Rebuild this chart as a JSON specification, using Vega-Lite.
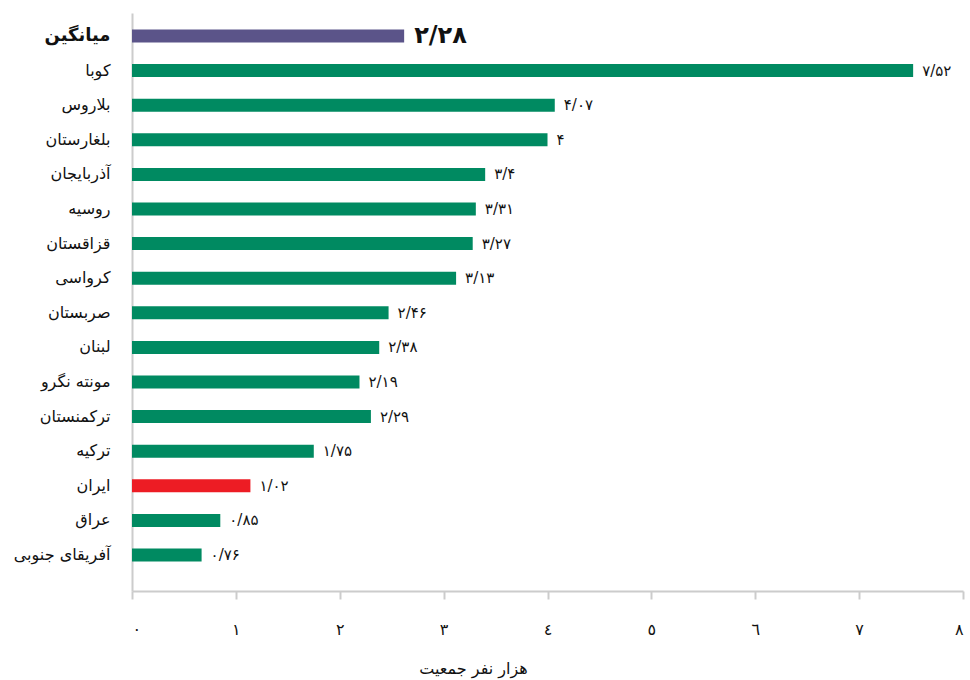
{
  "$schema": "https://vega.github.io/schema/vega-lite/v6.json",
  "autosize": "none",
  "padding": {"left": 132, "top": 13, "right": 6, "bottom": 89},
  "width": 831,
  "height": 578,
  "background": "white",
  "config": {"view": {"stroke": null}, "font": "DejaVu Sans"},
  "data": {
    "values": [
      {"country": "میانگین", "value": 2.62, "label": "۲/۲۸", "group": "avg"},
      {"country": "کوبا", "value": 7.52, "label": "۷/۵۲", "group": "other"},
      {"country": "بلاروس", "value": 4.07, "label": "۴/۰۷", "group": "other"},
      {"country": "بلغارستان", "value": 4.0, "label": "۴", "group": "other"},
      {"country": "آذربایجان", "value": 3.4, "label": "۳/۴", "group": "other"},
      {"country": "روسیه", "value": 3.31, "label": "۳/۳۱", "group": "other"},
      {"country": "قزاقستان", "value": 3.28, "label": "۳/۲۷", "group": "other"},
      {"country": "کرواسی", "value": 3.12, "label": "۳/۱۳", "group": "other"},
      {"country": "صربستان", "value": 2.47, "label": "۲/۴۶", "group": "other"},
      {"country": "لبنان", "value": 2.38, "label": "۲/۳۸", "group": "other"},
      {"country": "مونته نگرو", "value": 2.19, "label": "۲/۱۹", "group": "other"},
      {"country": "ترکمنستان", "value": 2.3, "label": "۲/۲۹", "group": "other"},
      {"country": "ترکیه", "value": 1.75, "label": "۱/۷۵", "group": "other"},
      {"country": "ایران", "value": 1.14, "label": "۱/۰۲", "group": "iran"},
      {"country": "عراق", "value": 0.85, "label": "۰/۸۵", "group": "other"},
      {"country": "آفریقای جنوبی", "value": 0.67, "label": "۰/۷۶", "group": "other"}
    ]
  },
  "encoding": {
    "y": {
      "field": "country",
      "type": "nominal",
      "sort": null,
      "scale": {"paddingInner": 0, "paddingOuter": 0.3526, "align": 0.2336},
      "axis": {
        "title": null,
        "ticks": false,
        "domain": true,
        "domainColor": "#cccccc",
        "domainWidth": 2,
        "labelPadding": 22,
        "labelFontSize": {"condition": {"test": "datum.value == 'میانگین'", "value": 18}, "value": 16},
        "labelFontWeight": {"condition": {"test": "datum.value == 'میانگین'", "value": "bold"}, "value": "normal"},
        "labelColor": "#111111"
      }
    },
    "x": {
      "field": "value",
      "type": "quantitative",
      "scale": {"domain": [0, 8], "nice": false},
      "axis": {
        "values": [0, 1, 2, 3, 4, 5, 6, 7, 8],
        "labelExpr": "['٠','١','٢','٣','٤','٥','٦','٧','٨'][datum.value]",
        "grid": false,
        "domainColor": "#cccccc",
        "domainWidth": 2,
        "tickColor": "#cccccc",
        "tickWidth": 2,
        "tickSize": 8,
        "labelPadding": 22,
        "labelFontSize": 16,
        "labelColor": "#111111",
        "title": "هزار نفر جمعیت",
        "titleFontSize": 16,
        "titleFontWeight": "normal",
        "titleColor": "#111111",
        "titleX": 341,
        "titleY": 77,
        "titleAlign": "center",
        "titleBaseline": "middle"
      }
    }
  },
  "layer": [
    {
      "mark": {"type": "bar", "height": 13},
      "encoding": {
        "color": {
          "field": "group",
          "type": "nominal",
          "scale": {"domain": ["avg", "other", "iran"], "range": ["#5B5489", "#008A61", "#ED1C24"]},
          "legend": null
        }
      }
    },
    {
      "transform": [{"filter": "datum.group == 'avg'"}],
      "mark": {"type": "text", "align": "left", "baseline": "middle", "dx": 10, "fontSize": 24, "fontWeight": "bold", "color": "#111111"},
      "encoding": {"text": {"field": "label"}}
    },
    {
      "transform": [{"filter": "datum.group != 'avg'"}],
      "mark": {"type": "text", "align": "left", "baseline": "middle", "dx": 9, "fontSize": 15, "color": "#111111"},
      "encoding": {"text": {"field": "label"}}
    }
  ]
}
